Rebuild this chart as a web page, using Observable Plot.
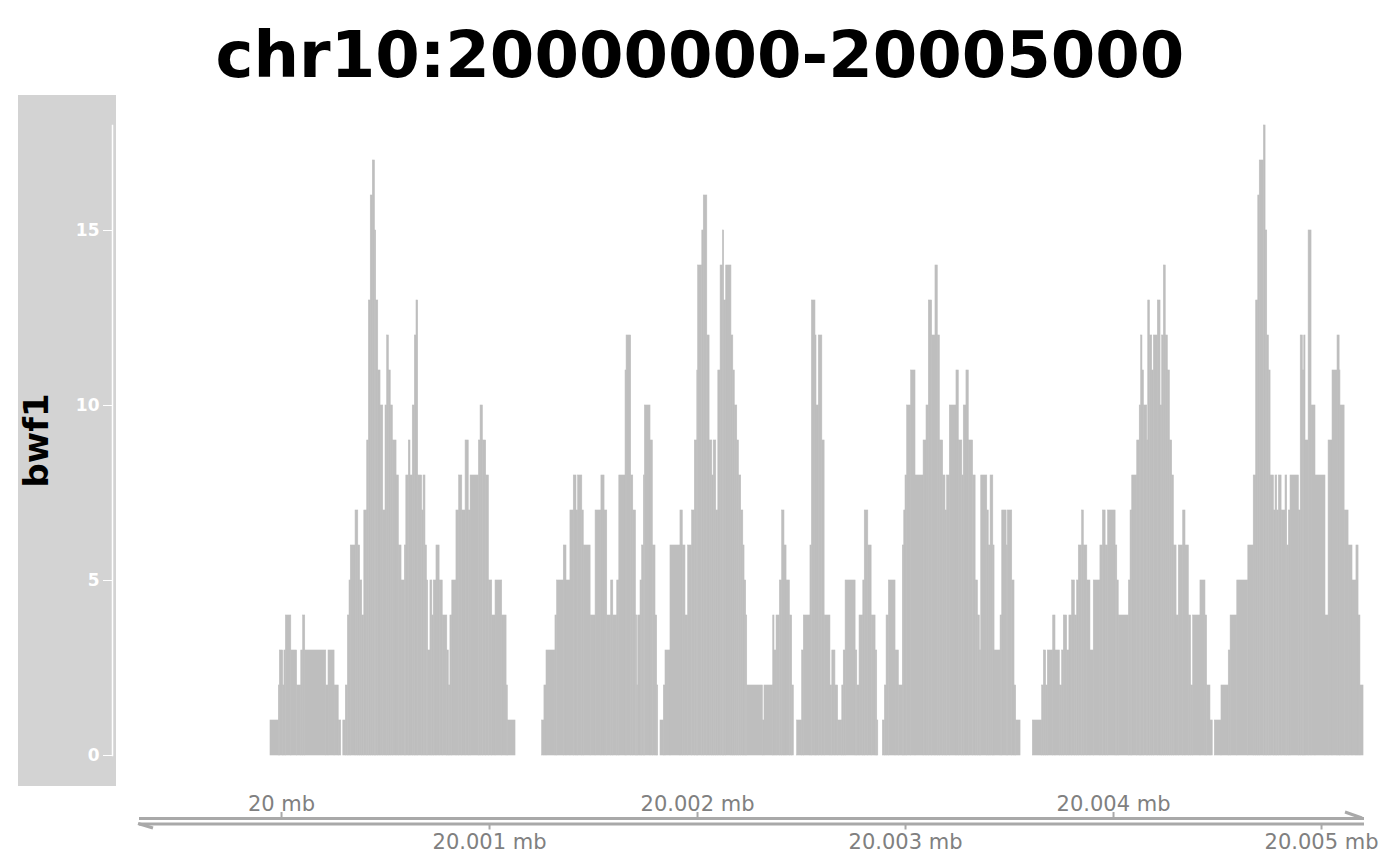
<!DOCTYPE html>
<html>
<head>
<meta charset="utf-8">
<script src="https://cdn.jsdelivr.net/npm/d3@7"></script>
<script src="https://cdn.jsdelivr.net/npm/@observablehq/plot@0.6"></script>
<style>
  html, body { margin: 0; padding: 0; background: #ffffff; }
  #wrap { position: relative; width: 1400px; height: 866px; overflow: hidden; }
  #title { height: 95px; width: 1400px; text-align: center; font-family: "DejaVu Sans", sans-serif;
           font-weight: bold; font-size: 64px; line-height: 95px; color: #000; }
  #title span { position: relative; top: 8px; }
</style>
</head>
<body>
<div id="wrap">
  <div id="title"><span></span></div>
  <div id="chart"></div>
</div>
<script>
// ---- data ----
const titleText = "chr10:20000000-20005000";
const trackName = "bwf1";
const chromStart = 20000000;          // region start (bp)
const viewFrom = chromStart - 678;    // plotted range (bp)
const viewTo = chromStart + 5197;
// coverage steps: [offset from chromStart (bp), value]; null = no data
const steps = [
  [-53,1],[-13,2],[-8,3],[8,2],[14,3],[21,4],[47,3],[75,2],[95,3],[104,4],[114,3],[215,2],[226,3],[255,2],[275,1],[287,null],
  [297,1],[309,2],[319,4],[327,5],[333,6],[356,7],[369,6],[378,5],[388,4],[398,7],[412,9],[420,13],[429,16],[439,17],[449,15],
  [455,13],[465,11],[476,10],[489,7],[500,10],[508,12],[516,11],[525,10],[535,9],[553,8],[564,6],[577,5],[593,6],[600,8],
  [612,9],[620,8],[631,10],[641,12],[649,13],[657,8],[676,7],[683,8],[692,6],[699,5],[705,3],[716,5],[725,4],[732,5],[745,6],
  [760,5],[775,4],[797,3],[804,2],[812,4],[821,5],[841,7],[854,8],[869,7],[885,9],[900,7],[909,8],[949,9],[957,10],[968,9],
  [984,8],[997,5],[1013,4],[1029,5],[1061,4],[1082,2],[1088,1],[1125,null],
  [1253,1],[1264,2],[1274,3],[1317,4],[1325,5],[1357,6],[1370,5],[1389,7],[1405,8],[1418,7],[1426,8],[1446,7],[1453,6],
  [1486,4],[1510,7],[1538,8],[1553,7],[1566,4],[1585,5],[1595,4],[1614,5],[1624,8],[1654,11],[1659,12],[1681,8],[1691,7],
  [1704,4],[1710,2],[1715,4],[1726,5],[1734,6],[1742,8],[1747,10],[1774,9],[1785,6],[1798,4],[1806,2],[1811,null],
  [1822,1],[1838,2],[1846,3],[1870,6],[1918,7],[1929,6],[1942,4],[1955,6],[1974,7],[1987,9],[1999,11],[2003,14],[2023,15],
  [2030,16],[2047,12],[2058,9],[2071,8],[2078,9],[2090,7],[2100,11],[2111,14],[2122,15],[2128,13],[2138,14],[2163,12],
  [2172,11],[2179,10],[2191,9],[2199,8],[2210,7],[2220,6],[2226,5],[2234,4],[2239,2],[2314,1],[2322,2],[2364,4],[2370,3],
  [2380,4],[2396,5],[2407,7],[2418,6],[2428,5],[2444,4],[2455,2],[2463,null],
  [2479,1],[2503,3],[2511,4],[2543,6],[2550,13],[2567,12],[2572,10],[2583,12],[2600,9],[2611,4],[2639,2],[2648,3],[2663,2],
  [2676,1],[2696,2],[2703,3],[2712,5],[2760,3],[2768,2],[2779,4],[2797,5],[2804,7],[2821,6],[2837,4],[2856,3],[2864,1],[2869,null],
  [2891,1],[2901,2],[2909,4],[2920,5],[2952,3],[2968,2],[2987,6],[2994,7],[3000,8],[3008,10],[3027,11],[3048,8],[3087,9],
  [3101,10],[3112,13],[3128,12],[3144,14],[3155,12],[3165,9],[3181,8],[3192,7],[3200,8],[3213,10],[3245,11],[3256,9],
  [3273,8],[3280,10],[3293,11],[3304,9],[3325,8],[3337,5],[3348,4],[3357,3],[3364,8],[3393,7],[3400,6],[3409,8],[3422,6],
  [3428,3],[3457,4],[3465,7],[3486,6],[3492,7],[3513,5],[3524,2],[3532,1],[3553,null],
  [3612,1],[3657,2],[3665,3],[3676,2],[3684,3],[3710,4],[3721,3],[3742,2],[3753,3],[3761,4],[3777,3],[3788,4],[3801,5],
  [3814,4],[3825,5],[3833,6],[3849,7],[3857,6],[3874,5],[3889,3],[3905,5],[3937,6],[3949,7],[3962,6],[3974,7],[4010,6],
  [4018,5],[4025,4],[4074,5],[4082,7],[4090,8],[4114,9],[4126,10],[4133,12],[4139,11],[4146,10],[4162,9],[4167,13],[4175,12],
  [4186,11],[4194,12],[4213,13],[4226,10],[4234,12],[4242,14],[4251,12],[4261,11],[4271,9],[4282,8],[4290,6],[4303,4],
  [4314,6],[4335,7],[4346,6],[4362,4],[4373,2],[4383,4],[4418,5],[4442,4],[4450,2],[4466,1],[4477,null],
  [4487,1],[4519,2],[4554,3],[4563,4],[4595,5],[4648,6],[4674,8],[4686,13],[4696,16],[4703,17],[4723,18],[4731,15],[4739,12],
  [4747,11],[4755,8],[4771,7],[4779,8],[4787,7],[4795,8],[4808,7],[4827,8],[4835,6],[4843,7],[4851,8],[4891,7],[4900,12],
  [4910,11],[4917,12],[4923,9],[4938,15],[4952,10],[4971,8],[5019,4],[5034,9],[5053,11],[5077,12],[5087,11],[5091,10],
  [5111,7],[5130,6],[5149,5],[5168,6],[5178,4],[5187,2]
];
const dataEnd = 5202;
const yTicks = [0, 5, 10, 15];
const upperTicks = [20000000, 20002000, 20004000];
const lowerTicks = [20001000, 20003000, 20005000];
// ---------------

document.querySelector("#title span").textContent = titleText;

const rows = steps.map(([s, v], i) => ({
  x1: chromStart + s,
  x2: chromStart + (i + 1 < steps.length ? steps[i + 1][0] : dataEnd),
  y: v
})).filter(d => d.y != null);

const mbFormat = d => (d / 1e6) + " mb";
const axisGray = "#A9A9A9";
const labelGray = "#808080";

const plot = Plot.plot({
  width: 1400,
  height: 771,
  marginLeft: 140,
  marginRight: 38,
  marginTop: 30,
  marginBottom: 111,
  x: {domain: [viewFrom, viewTo], axis: null},
  y: {domain: [0, 18], axis: null},
  style: {fontFamily: "DejaVu Sans, sans-serif", fontSize: "17px", background: "transparent", overflow: "visible"},
  marks: [
    Plot.rectY(rows, {x1: "x1", x2: "x2", y: "y", fill: "#BEBEBE", stroke: "#BEBEBE", strokeWidth: 0.6}),
    Plot.frame({anchor: "left", stroke: "white", strokeWidth: 1.5, dx: -28}),
    Plot.axisY(yTicks, {anchor: "left", dx: -28, tickSize: 9, tickPadding: 4, color: "white",
      fontSize: 17, fontWeight: "bold", label: null, tickFormat: d => String(d)}),
    Plot.text([trackName], {text: d => d, frameAnchor: "left", textAnchor: "middle", lineAnchor: "middle",
      dx: -103, rotate: -90, fontSize: 34, fontWeight: "bold", fill: "black"}),
    Plot.frame({anchor: "bottom", dy: 63, stroke: axisGray, strokeWidth: 3}),
    Plot.frame({anchor: "bottom", dy: 68.5, stroke: axisGray, strokeWidth: 3}),
    Plot.ruleX(upperTicks, {x: d => d, y1: 0, y2: 0, insetTop: -6, dy: 63, stroke: axisGray, strokeWidth: 2}),
    Plot.ruleX(lowerTicks, {x: d => d, y1: 0, y2: 0, insetBottom: -6, dy: 68.5, stroke: axisGray, strokeWidth: 2}),
    Plot.text(upperTicks, {x: d => d, text: mbFormat, frameAnchor: "bottom", dy: 55, lineAnchor: "bottom",
      fill: labelGray, fontSize: 21}),
    Plot.text(lowerTicks, {x: d => d, text: mbFormat, frameAnchor: "bottom", dy: 93, lineAnchor: "bottom",
      fill: labelGray, fontSize: 21})
  ]
});

const svg = d3.select(plot);
// make sure the y tick labels use the intended size and weight
svg.selectAll("[aria-label='y-axis tick label']")
  .attr("font-size", 17).attr("font-weight", "bold");
// grey title panel behind the data track
svg.insert("rect", ":first-child")
  .attr("x", 18).attr("y", 0).attr("width", 98).attr("height", 691)
  .attr("fill", "#D3D3D3");
// arrow barbs of the genome axis
const xr = plot.scale("x").range;
svg.append("path")
  .attr("d", `M${xr[0] - 2},${660 + 68.5} L${xr[0] + 13},${660 + 73}`)
  .attr("stroke", axisGray).attr("stroke-width", 3).attr("fill", "none");
svg.append("path")
  .attr("d", `M${xr[1]},${660 + 63} L${xr[1] - 17},${660 + 57}`)
  .attr("stroke", axisGray).attr("stroke-width", 3).attr("fill", "none");

document.getElementById("chart").appendChild(plot);
</script>
</body>
</html>
